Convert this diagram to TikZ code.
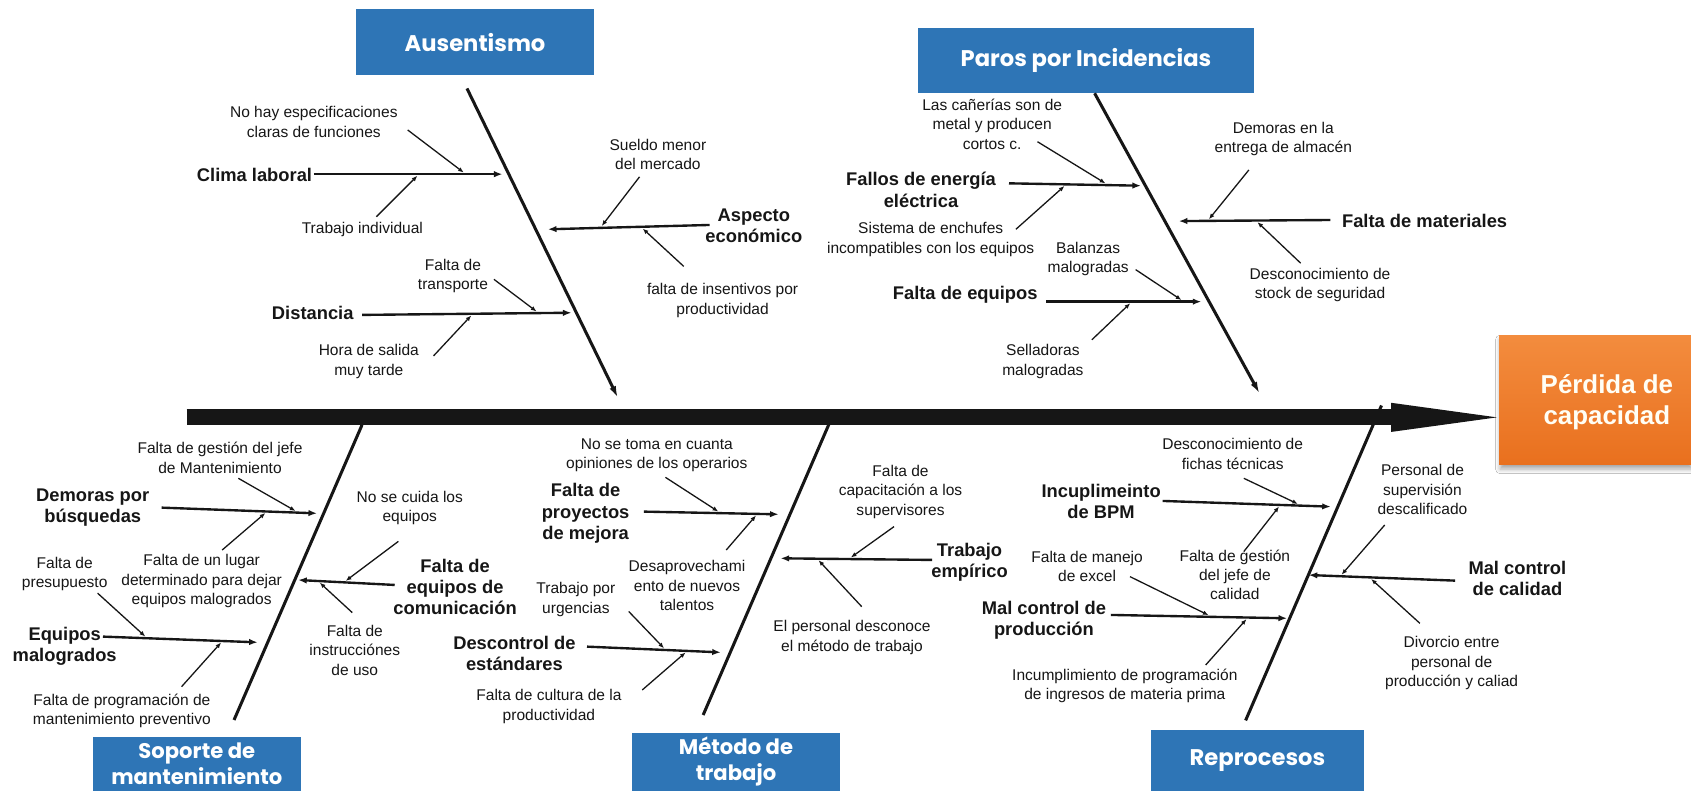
\documentclass[tikz,border=0pt]{standalone}
\usepackage{fontspec}
\setmainfont{Liberation Sans}
\newfontfamily\catfont{Poppins}
\usetikzlibrary{arrows.meta,shadows.blur}

\definecolor{catblue}{RGB}{46,117,182}
\definecolor{ink}{RGB}{22,22,22}
\definecolor{effecttop}{RGB}{243,140,62}
\definecolor{effectbot}{RGB}{233,112,30}

\tikzset{
  catbox/.style={fill=catblue, text=white, font=\catfont\bfseries\fontsize{10.5}{12.5}\selectfont,
                 align=center, inner sep=0pt},
  catboxlow/.style={catbox, font=\catfont\bfseries\fontsize{9.8}{12}\selectfont},
  cause/.style={font=\fontsize{7.2}{9}\selectfont, align=center, inner sep=0pt, text=ink},
  major/.style={font=\bfseries\fontsize{8.5}{9.8}\selectfont, align=center, inner sep=0pt, text=ink},
  bone/.style={line width=1.4pt, draw=ink},
  boneup/.style={bone, -{Latex[length=5.5pt,width=3.2pt]}},
  branch/.style={line width=1.1pt, draw=ink, -{Latex[length=4pt,width=3pt]}},
  twig/.style={line width=0.6pt, draw=ink, -{Latex[length=2.6pt,width=2.1pt]}},
}

\begin{document}
\begin{tikzpicture}[x=0.5pt,y=-0.5pt]
\useasboundingbox (0,0) rectangle (1568,733);
\fill[white] (0,0) rectangle (1568,733);

% ---------- category boxes ----------
\node[catbox, minimum width=110.5pt, minimum height=31pt] (ausentismo) at (440.5,39) {Ausentismo};
\node[catbox, minimum width=156pt, minimum height=30pt] (paros) at (1007,56) {Paros por Incidencias};
\node[catboxlow, minimum width=96.5pt, minimum height=25pt] (soporte) at (182.5,708) {Soporte de\\mantenimiento};
\node[catboxlow, minimum width=96.5pt, minimum height=26.5pt] (metodo) at (682.5,706.5) {Método de\\trabajo};
\node[catbox, minimum width=99pt, minimum height=28pt] (reprocesos) at (1166,705) {Reprocesos};

% ---------- effect ----------
\node[inner sep=0pt, minimum width=89pt, minimum height=60pt, top color=effecttop, bottom color=effectbot,
      blur shadow={shadow xshift=0.5pt, shadow yshift=-2pt, shadow opacity=35}] (effect) at (1479,371) {};
\node[font=\bfseries\fontsize{12}{14}\selectfont, text=white!96!yellow, align=center, inner sep=0pt]
      (effecttext) at (1490,373) {Pérdida de\\capacidad};

% ---------- spine: thick shaft and long slim head ----------
\coordinate (spineL) at (173,387);
\coordinate (headB) at (1292,387);
\coordinate (headT1) at (1290,373.5);
\coordinate (headT2) at (1290,400.5);
\coordinate (spineR) at (1388,387);
\draw[line width=7.5pt, ink] (spineL) -- (headB);
\fill[ink] (headT1) -- (spineR) -- (headT2) -- cycle;

% ---------- bones ----------
\coordinate (bA1) at (433,82);   \coordinate (bA2) at (573,369);
\coordinate (bP1) at (1015,86.5); \coordinate (bP2) at (1168,365);
\coordinate (bS1) at (335.7,394); \coordinate (bS2) at (217,667.6);
\coordinate (bM1) at (769,392.5); \coordinate (bM2) at (652,663);
\coordinate (bR1) at (1281,376);  \coordinate (bR2) at (1155,668);
\draw[boneup] (bA1) -- (bA2);
\draw[boneup] (bP1) -- (bP2);
\draw[bone] (bS1) -- (bS2);
\draw[bone] (bM1) -- (bM2);
\draw[bone] (bR1) -- (bR2);

% ---------- Ausentismo ----------
\node[major] (clima) at (236,162) {Clima laboral};
\coordinate (clima1) at (291,161.5); \coordinate (clima2) at (466,161.5);
\draw[branch] (clima1) -- (clima2);
\node[cause] (nohay) at (291,113) {No hay especificaciones\\claras de funciones};
\coordinate (nohay1) at (378,120.5); \coordinate (nohay2) at (430,160);
\draw[twig] (nohay1) -- (nohay2);
\node[cause] (individual) at (336,213) {Trabajo individual};
\coordinate (indiv1) at (349,201); \coordinate (indiv2) at (387,163);
\draw[twig] (indiv1) -- (indiv2);

\node[major] (aspecto) at (699,209) {Aspecto\\económico};
\coordinate (asp1) at (658,208.6); \coordinate (asp2) at (508,212.6);
\draw[branch] (asp1) -- (asp2);
\node[cause] (sueldo) at (610,143) {Sueldo menor\\del mercado};
\coordinate (sueldo1) at (593,164); \coordinate (sueldo2) at (558,209.5);
\draw[twig] (sueldo1) -- (sueldo2);
\node[cause] (insentivos) at (670,278.5) {falta de insentivos por\\productividad};
\coordinate (insent1) at (634,247); \coordinate (insent2) at (596,212);
\draw[twig] (insent1) -- (insent2);

\node[major] (distancia) at (290,290.5) {Distancia};
\coordinate (dist1) at (335.7,292); \coordinate (dist2) at (530,290);
\draw[branch] (dist1) -- (dist2);
\node[cause] (transporte) at (420,256) {Falta de\\transporte};
\coordinate (transp1) at (458,259); \coordinate (transp2) at (497.5,288.8);
\draw[twig] (transp1) -- (transp2);
\node[cause] (salida) at (342,335) {Hora de salida\\muy tarde};
\coordinate (salida1) at (402,330); \coordinate (salida2) at (437,292.5);
\draw[twig] (salida1) -- (salida2);

% ---------- Paros por Incidencias ----------
\node[major] (fallos) at (854,176) {Fallos de energía\\eléctrica};
\coordinate (fallos1) at (935.6,170); \coordinate (fallos2) at (1058,172.2);
\draw[branch] (fallos1) -- (fallos2);
\node[cause] (canerias) at (920,115) {Las cañerías son de\\metal y producen\\cortos c.};
\coordinate (caner1) at (962,131.4); \coordinate (caner2) at (1025,170);
\draw[twig] (caner1) -- (caner2);
\node[cause] (enchufes) at (863,222) {Sistema de enchufes\\incompatibles con los equipos};
\coordinate (ench1) at (942,212.6); \coordinate (ench2) at (987,172.5);
\draw[twig] (ench1) -- (ench2);

\node[major] (materiales) at (1321,205) {Falta de materiales};
\coordinate (mat1) at (1233.6,204); \coordinate (mat2) at (1093,205);
\draw[branch] (mat1) -- (mat2);
\node[cause] (almacen) at (1190,129) {Demoras en la\\entrega de almacén};
\coordinate (alm1) at (1158,157.6); \coordinate (alm2) at (1121,203.3);
\draw[twig] (alm1) -- (alm2);
\node[cause] (stock) at (1224,264) {Desconocimiento de\\stock de seguridad};
\coordinate (stock1) at (1206,244); \coordinate (stock2) at (1166,206);
\draw[twig] (stock1) -- (stock2);

\node[major] (equipos) at (895,273.5) {Falta de equipos};
\coordinate (equ1) at (970,279.7); \coordinate (equ2) at (1114,279.7);
\draw[branch] (equ1) -- (equ2);
\node[cause] (balanzas) at (1009,240) {Balanzas\\malogradas};
\coordinate (bal1) at (1053,250); \coordinate (bal2) at (1095.5,278.2);
\draw[twig] (bal1) -- (bal2);
\node[cause] (selladoras) at (967,335) {Selladoras\\malogradas};
\coordinate (sell1) at (1012.5,315); \coordinate (sell2) at (1048,281.2);
\draw[twig] (sell1) -- (sell2);

% ---------- Soporte de mantenimiento ----------
\node[major] (demoras) at (86,471) {Demoras por\\búsquedas};
\coordinate (dem1) at (149.8,470.7); \coordinate (dem2) at (294,476);
\draw[branch] (dem1) -- (dem2);
\node[cause] (jefemant) at (204,424.5) {Falta de gestión del jefe\\de Mantenimiento};
\coordinate (jm1) at (221,443.5); \coordinate (jm2) at (274,473.8);
\draw[twig] (jm1) -- (jm2);
\node[cause] (lugar) at (187,539) {Falta de un lugar\\determinado para dejar\\equipos malogrados};
\coordinate (lug1) at (206,510); \coordinate (lug2) at (246,475.7);
\draw[twig] (lug1) -- (lug2);

\node[major] (comunicacion) at (422,544) {Falta de\\equipos de\\comunicación};
\coordinate (com1) at (366,542.4); \coordinate (com2) at (276.4,537.8);
\draw[branch] (com1) -- (com2);
\node[cause] (cuida) at (380,471) {No se cuida los\\equipos};
\coordinate (cui1) at (369.4,502); \coordinate (cui2) at (320.6,538.6);
\draw[twig] (cui1) -- (cui2);
\node[cause] (instrucciones) at (329,603) {Falta de\\instrucciónes\\de uso};
\coordinate (ins1) at (326.6,568); \coordinate (ins2) at (296.5,540.3);
\draw[twig] (ins1) -- (ins2);

\node[major] (malogrados) at (60,599) {Equipos\\malogrados};
\coordinate (mal1) at (95.5,590.3); \coordinate (mal2) at (239,595.6);
\draw[branch] (mal1) -- (mal2);
\node[cause] (presupuesto) at (60,532) {Falta de\\presupuesto};
\coordinate (pre1) at (90.5,550); \coordinate (pre2) at (134.7,590.2);
\draw[twig] (pre1) -- (pre2);
\node[cause] (preventivo) at (113,659) {Falta de programación de\\mantenimiento preventivo};
\coordinate (prev1) at (168.4,636.7); \coordinate (prev2) at (205,595.8);
\draw[twig] (prev1) -- (prev2);

% ---------- Método de trabajo ----------
\node[major] (proyectos) at (543,476) {Falta de\\proyectos\\de mejora};
\coordinate (pro1) at (597,474.4); \coordinate (pro2) at (722,476.9);
\draw[branch] (pro1) -- (pro2);
\node[cause] (opiniones) at (609,422) {No se toma en cuanta\\opiniones de los operarios};
\coordinate (opi1) at (617,442.6); \coordinate (opi2) at (666,474.3);
\draw[twig] (opi1) -- (opi2);
\node[cause] (talentos) at (637,543) {Desaprovechami\\ento de nuevos\\talentos};
\coordinate (tal1) at (673.4,510); \coordinate (tal2) at (701,478);
\draw[twig] (tal1) -- (tal2);

\node[major] (empirico) at (899,521) {Trabajo\\empírico};
\coordinate (emp1) at (864.3,519.2); \coordinate (emp2) at (723.7,517.7);
\draw[branch] (emp1) -- (emp2);
\node[cause] (capacitacion) at (835,456) {Falta de\\capacitación a los\\supervisores};
\coordinate (cap1) at (829,488.3); \coordinate (cap2) at (789,516.9);
\draw[twig] (cap1) -- (cap2);
\node[cause] (desconoce) at (790,591) {El personal desconoce\\el método de trabajo};
\coordinate (desc1) at (799,562.5); \coordinate (desc2) at (759,519.5);
\draw[twig] (desc1) -- (desc2);

\node[major] (descontrol) at (477,606) {Descontrol de\\estándares};
\coordinate (dsc1) at (544.3,599.6); \coordinate (dsc2) at (668.4,604.9);
\draw[branch] (dsc1) -- (dsc2);
\node[cause] (urgencias) at (534,556) {Trabajo por\\urgencias};
\coordinate (urg1) at (583,567); \coordinate (urg2) at (615.7,601.1);
\draw[twig] (urg1) -- (urg2);
\node[cause] (cultura) at (509,655) {Falta de cultura de la\\productividad};
\coordinate (cul1) at (595.5,639.8); \coordinate (cul2) at (635.7,605);
\draw[twig] (cul1) -- (cul2);

% ---------- Reprocesos ----------
\node[major] (bpm) at (1021,465) {Incuplimeinto\\de BPM};
\coordinate (bpm1) at (1078,464.5); \coordinate (bpm2) at (1234,469.8);
\draw[branch] (bpm1) -- (bpm2);
\node[cause] (fichas) at (1143,421) {Desconocimiento de\\fichas técnicas};
\coordinate (fic1) at (1153.3,443.5); \coordinate (fic2) at (1203.5,467.3);
\draw[twig] (fic1) -- (fic2);
\node[cause] (jefecal) at (1145,533) {Falta de gestión\\del jefe de\\calidad};
\coordinate (jc1) at (1153.3,511.5); \coordinate (jc2) at (1186,469.7);
\draw[twig] (jc1) -- (jc2);

\node[major] (produccion) at (968,575) {Mal control de\\producción};
\coordinate (prd1) at (1030,570.2); \coordinate (prd2) at (1193.5,573.3);
\draw[branch] (prd1) -- (prd2);
\node[cause] (excel) at (1008,525) {Falta de manejo\\de excel};
\coordinate (exc1) at (1047.8,534.7); \coordinate (exc2) at (1120.6,570.4);
\draw[twig] (exc1) -- (exc2);
\node[cause] (materia) at (1043,636) {Incumplimiento de programación\\de ingresos de materia prima};
\coordinate (mp1) at (1118,616.6); \coordinate (mp2) at (1155.8,574.1);
\draw[twig] (mp1) -- (mp2);

\node[major] (calidad) at (1407,536) {Mal control\\de calidad};
\coordinate (cal1) at (1349.3,538.4); \coordinate (cal2) at (1213.5,533.2);
\draw[branch] (cal1) -- (cal2);
\node[cause] (supervision) at (1319,454) {Personal de\\supervisión\\descalificado};
\coordinate (sup1) at (1284,486.8); \coordinate (sup2) at (1244,532.9);
\draw[twig] (sup1) -- (sup2);
\node[cause] (divorcio) at (1346,615) {Divorcio entre\\personal de\\producción y caliad};
\coordinate (div1) at (1316.6,578); \coordinate (div2) at (1271.4,536.9);
\draw[twig] (div1) -- (div2);
\end{tikzpicture}
\end{document}
